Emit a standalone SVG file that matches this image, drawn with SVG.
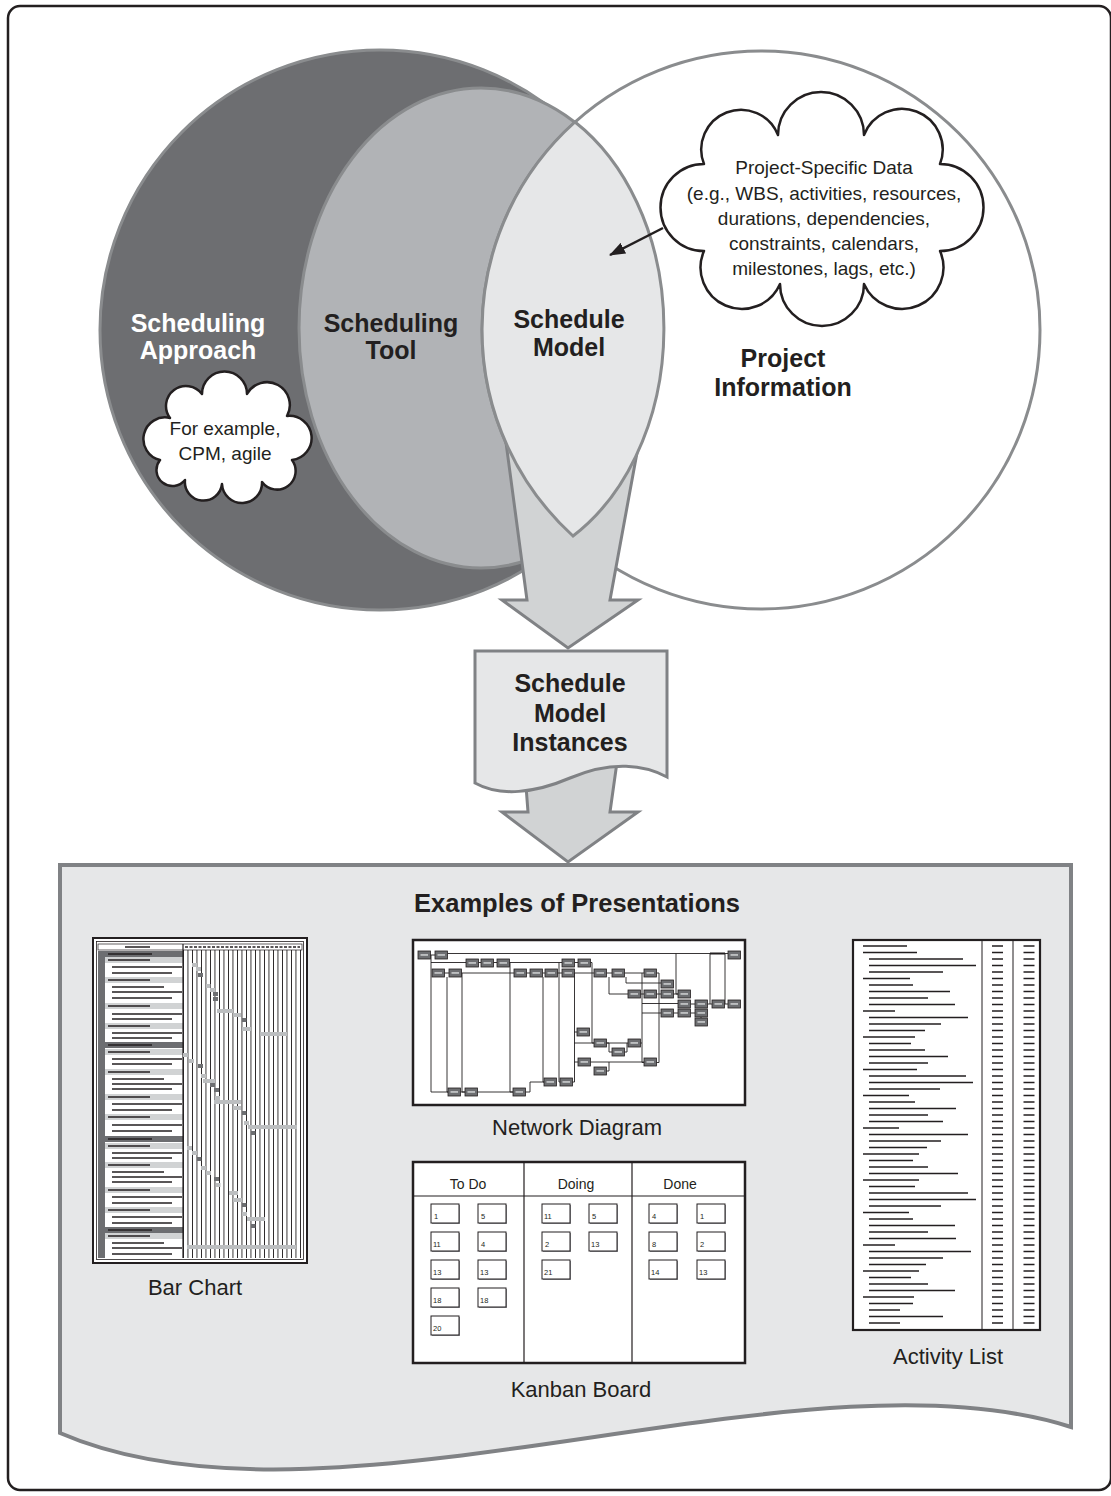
<svg xmlns="http://www.w3.org/2000/svg" xmlns:xlink="http://www.w3.org/1999/xlink" width="1111" height="1496" viewBox="0 0 1111 1496">
<style>
.t{font-family:"Liberation Sans",Arial,sans-serif;fill:#231f20}
.b{font-weight:bold;font-size:25px}
.lbl{font-size:22px}
.cl{font-size:19px}
.kh{font-size:14px}
.kn{font-size:7.5px;fill:#231f20}
.venn{stroke:#8a8c8e;stroke-width:3}
.arr{fill:#d1d3d4;stroke:#808285;stroke-width:3;stroke-linejoin:miter}
.cloud{fill:#fff;stroke:#231f20;stroke-width:2.5;stroke-linejoin:round}
.frm{fill:#fff;stroke:#231f20}
.blob{fill:none;stroke:#231f20;stroke-width:1.6}
.nl{fill:none;stroke:#231f20;stroke-width:0.9}
</style>
<defs>
<marker id="ah" viewBox="0 0 16 12" markerWidth="16" markerHeight="12" refX="15" refY="6" orient="auto" markerUnits="userSpaceOnUse">
<path d="M0 0 L16 6 L0 12 Z" fill="#231f20"/>
</marker>
<pattern id="vl" x="183" y="0" width="4.5" height="10" patternUnits="userSpaceOnUse">
<rect x="0" y="0" width="0.9" height="10" fill="#231f20"/>
</pattern>
<g id="nbox">
<rect x="0" y="0" width="12.5" height="8" fill="#6d6e71" stroke="#231f20" stroke-width="0.8"/>
<rect x="2.5" y="3.2" width="7.5" height="1.5" fill="#d1d3d4"/>
</g>
<g id="card">
<rect x="1" y="1" width="28" height="19" fill="#939598"/>
<rect x="0" y="0" width="28" height="19" fill="#fff" stroke="#231f20" stroke-width="1"/>
</g>
</defs>

<rect id="frame" x="8" y="6" width="1103" height="1484" rx="12" fill="#fff" stroke="#231f20" stroke-width="2.5"/>

<g id="scheduling-approach">
<circle cx="380" cy="330" r="280" fill="#6d6e71" class="venn"/>
</g>
<g id="scheduling-tool">
<ellipse cx="481" cy="328" rx="182" ry="240" fill="#b1b3b6" class="venn"/>
</g>
<g id="project-information">
<circle cx="761" cy="330" r="279" fill="#fff" class="venn"/>
</g>

<g id="connectors">
<polygon class="arr" points="503,420 527,600 502,600 568,648 638,600 610,600 643,420"/>
<polygon class="arr" points="524,760 528,812 502,812 568,862 638,812 610,812 618,755"/>
</g>

<g id="schedule-model">
<path d="M575 122 A279 279 0 0 0 573 536 A182 240 0 0 0 575 122 Z" fill="#e6e7e8" class="venn"/>
<text class="t b" x="569" y="328" text-anchor="middle">Schedule</text>
<text class="t b" x="569" y="356" text-anchor="middle">Model</text>
</g>

<g id="labels-venn">
<text class="t b" x="198" y="332" text-anchor="middle" style="fill:#fff">Scheduling</text>
<text class="t b" x="198" y="359" text-anchor="middle" style="fill:#fff">Approach</text>
<text class="t b" x="391" y="332" text-anchor="middle">Scheduling</text>
<text class="t b" x="391" y="359" text-anchor="middle">Tool</text>
<text class="t b" x="783" y="367" text-anchor="middle">Project</text>
<text class="t b" x="783" y="396" text-anchor="middle">Information</text>
</g>

<g id="cloud-approach">
<path class="cloud" d="M160 460 A1 1 0 0 1 170 418 A1 1 0 0 1 202 394 A1 1 0 0 1 247 394 A1 1 0 0 1 287 416 A1 1 0 0 1 292 460 A1 1 0 0 1 262 482 A1 1 0 0 1 222 484 A1 1 0 0 1 185 480 A1 1 0 0 1 160 460 Z"/>
<text class="t cl" x="225" y="435" text-anchor="middle">For example,</text>
<text class="t cl" x="225" y="460" text-anchor="middle">CPM, agile</text>
</g>

<g id="cloud-data">
<path class="cloud" d="M704 251 A1 1 0 0 1 704 164 A1 1 0 0 1 778 135 A1 1 0 0 1 864 135 A1 1 0 0 1 940 164 A1 1 0 0 1 940 251 A1 1 0 0 1 864 284 A1 1 0 0 1 780 284 A1 1 0 0 1 704 251 Z"/>
<text class="t cl" x="824" y="174" text-anchor="middle">Project-Specific Data</text>
<text class="t cl" x="824" y="200" text-anchor="middle">(e.g., WBS, activities, resources,</text>
<text class="t cl" x="824" y="225" text-anchor="middle">durations, dependencies,</text>
<text class="t cl" x="824" y="250" text-anchor="middle">constraints, calendars,</text>
<text class="t cl" x="824" y="275" text-anchor="middle">milestones, lags, etc.)</text>
</g>

<g id="data-arrow">
<path d="M663 228 L610 255" stroke="#231f20" stroke-width="2.5" fill="none" marker-end="url(#ah)"/>
</g>

<g id="schedule-model-instances">
<path d="M475 651 H667 V777 C645 765 612 760 570 778 C535 793 500 797 475 783 Z" fill="#e6e7e8" stroke="#808285" stroke-width="3"/>
<text class="t b" x="570" y="692" text-anchor="middle">Schedule</text>
<text class="t b" x="570" y="722" text-anchor="middle">Model</text>
<text class="t b" x="570" y="751" text-anchor="middle">Instances</text>
</g>

<g id="presentations-panel">
<path d="M60 865 H1071 V1427 C800 1340 330 1550 60 1433 Z" fill="#e6e7e8" stroke="#808285" stroke-width="4"/>
<text class="t" x="577" y="912" text-anchor="middle" style="font-weight:bold;font-size:25.5px">Examples of Presentations</text>
</g>

<g id="bar-chart">
<rect x="93" y="938" width="214" height="325" class="frm" stroke-width="2"/>
<rect x="96.5" y="941.5" width="207" height="318" fill="#fff" stroke="#231f20" stroke-width="0.8"/>
<rect x="98" y="944" width="204" height="6" fill="#fff" stroke="#231f20" stroke-width="0.7"/>
<rect x="183" y="950" width="118" height="308" fill="url(#vl)"/>
<rect x="98" y="951" width="7" height="307" fill="#6d6e71"/>
<g fill="#6d6e71">
<rect x="98" y="951" width="85" height="6"/>
<rect x="98" y="1042" width="85" height="6"/>
<rect x="98" y="1136" width="85" height="6"/>
<rect x="98" y="1227" width="85" height="6"/>
</g>
<g fill="#d1d3d4">
<rect x="105" y="957" width="78" height="6"/>
<rect x="105" y="977" width="78" height="6"/>
<rect x="105" y="1003" width="78" height="6"/>
<rect x="105" y="1023" width="78" height="6"/>
<rect x="105" y="1049" width="78" height="6"/>
<rect x="105" y="1069" width="78" height="6"/>
<rect x="105" y="1094" width="78" height="6"/>
<rect x="105" y="1114" width="78" height="6"/>
<rect x="105" y="1143" width="78" height="6"/>
<rect x="105" y="1162" width="78" height="6"/>
<rect x="105" y="1187" width="78" height="6"/>
<rect x="105" y="1207" width="78" height="6"/>
<rect x="105" y="1233" width="78" height="6"/>
</g>
<path d="M183 944 V1258" stroke="#231f20" stroke-width="1.2"/>
<path class="blob" stroke-width="1.3" d="M112 967h70M112 973h60M112 987h52M112 992h70M112 998h60M112 1014h70M112 1019h60M112 1033h70M112 1038h60M112 1059h70M112 1064h60M112 1079h52M112 1084h70M112 1089h60M112 1104h70M112 1110h60M112 1125h70M112 1131h60M112 1153h70M112 1158h60M112 1172h52M112 1177h70M112 1182h60M112 1197h70M112 1203h60M112 1217h70M112 1223h60M112 1243h52M112 1248h70M112 1254h60"/>
<path class="blob" stroke-width="1.5" d="M108 960h42M108 980h42M108 1006h42M108 1026h42M108 1052h42M108 1072h42M108 1097h42M108 1117h42M108 1146h42M108 1165h42M108 1190h42M108 1210h42M108 1236h42M125 947h25"/>
<path class="blob" stroke="#e6e7e8" stroke-width="1.5" d="M108 954h44M108 1045h44M108 1139h44M108 1230h44"/>
<path class="blob" stroke-width="1.5" stroke-dasharray="3 1.5" d="M185 947h115"/>
<g fill="#bcbec0">
<rect x="192" y="963" width="5" height="4"/><rect x="196" y="967" width="5" height="4"/>
<rect x="206" y="984" width="4.5" height="4"/><rect x="210" y="988" width="5" height="4"/>
<rect x="217" y="1009" width="16" height="4"/><rect x="233" y="1013" width="8" height="4"/>
<rect x="242" y="1027" width="9" height="4"/><rect x="260" y="1032" width="27" height="4"/>
<rect x="183" y="1053" width="5" height="4"/><rect x="189" y="1059" width="5" height="4"/>
<rect x="201" y="1074" width="5" height="4"/><rect x="203" y="1079" width="12" height="4"/>
<rect x="215" y="1096" width="5" height="4"/><rect x="214" y="1100" width="27" height="4"/>
<rect x="233" y="1106" width="8" height="4"/><rect x="244" y="1121" width="5" height="4"/>
<rect x="248" y="1125" width="49" height="4"/><rect x="187" y="1146" width="5" height="4"/>
<rect x="192" y="1151" width="5" height="4"/><rect x="201" y="1166" width="5" height="4"/>
<rect x="206" y="1171" width="5" height="4"/><rect x="216" y="1183" width="4.5" height="4"/>
<rect x="229" y="1191" width="9" height="4"/><rect x="233" y="1198" width="9" height="4"/>
<rect x="242" y="1212" width="5" height="4"/><rect x="247" y="1217" width="18" height="4"/>
<rect x="187" y="1245" width="109" height="4"/>
</g>
<g fill="#6d6e71">
<rect x="198" y="973" width="5" height="4"/><rect x="213" y="992" width="5" height="4"/>
<rect x="213" y="997" width="5" height="4"/><rect x="242" y="1018" width="4.5" height="4"/>
<rect x="198" y="1064" width="5" height="4"/><rect x="210" y="1083" width="5" height="4"/>
<rect x="214" y="1088" width="5" height="4"/><rect x="242" y="1111" width="4.5" height="4"/>
<rect x="251" y="1131" width="4.5" height="4"/><rect x="197" y="1157" width="4.5" height="4"/>
<rect x="214" y="1177" width="5" height="4"/><rect x="242" y="1203" width="4.5" height="4"/>
<rect x="251" y="1224" width="4.5" height="4"/>
</g>
<text class="t lbl" x="195" y="1295" text-anchor="middle">Bar Chart</text>
</g>

<g id="network-diagram">
<rect x="413" y="940" width="332" height="165" class="frm" stroke-width="2.5"/>
<path class="nl" d="M430.5 955H435M447.5 953.5H728M430.5 955H431V1092H448M431 962.5H466M478.5 962.5H481M493.5 962.5H497M509.5 962.5H562M574.5 962.5H578M590.5 962.5H592V1043H594M444.5 973H449M447 977V1092H448M461.5 973H514M462 973V1092H465M460.5 1092H465M477.5 1092H513M510 962.5V1092H513M526.5 973H530M542.5 973H545M557.5 973H562M543 977V1082H544M559 962.5V1082H560M574.5 973V1082H572.5M525.5 1092H530V1082H544M574.5 973H594M606.5 973H612M624.5 973H644M609 977V994H628M626 977V983H661M642 973V1062.5H644M642 1003.5H678M642 1013H661M656.5 973H659V1062.5H656.5M640.5 994H644M656.5 994H661M673.5 994H678M676 953.5V994H678M690.5 1004H695M707.5 1004H712M724.5 1004H728M710 953.5V1004M725 953.5V1004M673.5 1013H678M690.5 1013H695M701 1017V1018M574 1032H577M574 1043H594M606.5 1043H628M606.5 1043H609V1052H612M624.5 1052H627V1043M574 1062H578M590.5 1062H644M606.5 1071H609V1062M640.5 1043H642"/>
<path d="M710 953.5H725" stroke="#231f20" stroke-width="2"/>
<use xlink:href="#nbox" x="418" y="951"/><use xlink:href="#nbox" x="435" y="951"/><use xlink:href="#nbox" x="728" y="951"/>
<use xlink:href="#nbox" x="466" y="959"/><use xlink:href="#nbox" x="481" y="959"/><use xlink:href="#nbox" x="497" y="959"/>
<use xlink:href="#nbox" x="562" y="959"/><use xlink:href="#nbox" x="578" y="959"/>
<use xlink:href="#nbox" x="432" y="969"/><use xlink:href="#nbox" x="449" y="969"/>
<use xlink:href="#nbox" x="514" y="969"/><use xlink:href="#nbox" x="530" y="969"/><use xlink:href="#nbox" x="545" y="969"/><use xlink:href="#nbox" x="562" y="969"/>
<use xlink:href="#nbox" x="594" y="969"/><use xlink:href="#nbox" x="612" y="969"/><use xlink:href="#nbox" x="644" y="969"/>
<use xlink:href="#nbox" x="661" y="980"/>
<use xlink:href="#nbox" x="628" y="990"/><use xlink:href="#nbox" x="644" y="990"/><use xlink:href="#nbox" x="661" y="990"/><use xlink:href="#nbox" x="678" y="990"/>
<use xlink:href="#nbox" x="678" y="1000"/><use xlink:href="#nbox" x="695" y="1000"/><use xlink:href="#nbox" x="712" y="1000"/><use xlink:href="#nbox" x="728" y="1000"/>
<use xlink:href="#nbox" x="661" y="1009"/><use xlink:href="#nbox" x="678" y="1009"/><use xlink:href="#nbox" x="695" y="1009"/>
<use xlink:href="#nbox" x="695" y="1018"/>
<use xlink:href="#nbox" x="577" y="1028"/>
<use xlink:href="#nbox" x="594" y="1039"/><use xlink:href="#nbox" x="628" y="1039"/>
<use xlink:href="#nbox" x="612" y="1048"/>
<use xlink:href="#nbox" x="578" y="1058"/><use xlink:href="#nbox" x="644" y="1058"/>
<use xlink:href="#nbox" x="594" y="1067"/>
<use xlink:href="#nbox" x="544" y="1078"/><use xlink:href="#nbox" x="560" y="1078"/>
<use xlink:href="#nbox" x="448" y="1088"/><use xlink:href="#nbox" x="465" y="1088"/><use xlink:href="#nbox" x="513" y="1088"/>
<text class="t lbl" x="577" y="1135" text-anchor="middle">Network Diagram</text>
</g>

<g id="kanban-board">
<rect x="413" y="1162" width="332" height="201" class="frm" stroke-width="2.5"/>
<path d="M413 1196H745M524 1162V1363M632 1162V1363" stroke="#231f20" stroke-width="1.2" fill="none"/>
<text class="t kh" x="468" y="1189" text-anchor="middle">To Do</text>
<text class="t kh" x="576" y="1189" text-anchor="middle">Doing</text>
<text class="t kh" x="680" y="1189" text-anchor="middle">Done</text>
<use xlink:href="#card" x="431" y="1204"/><use xlink:href="#card" x="478" y="1204"/>
<use xlink:href="#card" x="431" y="1232"/><use xlink:href="#card" x="478" y="1232"/>
<use xlink:href="#card" x="431" y="1260"/><use xlink:href="#card" x="478" y="1260"/>
<use xlink:href="#card" x="431" y="1288"/><use xlink:href="#card" x="478" y="1288"/>
<use xlink:href="#card" x="431" y="1316"/>
<use xlink:href="#card" x="542" y="1204"/><use xlink:href="#card" x="589" y="1204"/>
<use xlink:href="#card" x="542" y="1232"/><use xlink:href="#card" x="589" y="1232"/>
<use xlink:href="#card" x="542" y="1260"/>
<use xlink:href="#card" x="649" y="1204"/><use xlink:href="#card" x="697" y="1204"/>
<use xlink:href="#card" x="649" y="1232"/><use xlink:href="#card" x="697" y="1232"/>
<use xlink:href="#card" x="649" y="1260"/><use xlink:href="#card" x="697" y="1260"/>
<text class="t kn" x="434" y="1219">1</text><text class="t kn" x="481" y="1219">5</text>
<text class="t kn" x="433" y="1247">11</text><text class="t kn" x="481" y="1247">4</text>
<text class="t kn" x="433" y="1275">13</text><text class="t kn" x="480" y="1275">13</text>
<text class="t kn" x="433" y="1303">18</text><text class="t kn" x="480" y="1303">18</text>
<text class="t kn" x="433" y="1331">20</text>
<text class="t kn" x="544" y="1219">11</text><text class="t kn" x="592" y="1219">5</text>
<text class="t kn" x="545" y="1247">2</text><text class="t kn" x="591" y="1247">13</text>
<text class="t kn" x="544" y="1275">21</text>
<text class="t kn" x="652" y="1219">4</text><text class="t kn" x="700" y="1219">1</text>
<text class="t kn" x="652" y="1247">8</text><text class="t kn" x="700" y="1247">2</text>
<text class="t kn" x="651" y="1275">14</text><text class="t kn" x="699" y="1275">13</text>
<text class="t lbl" x="581" y="1397" text-anchor="middle">Kanban Board</text>
</g>

<g id="activity-list">
<rect x="853" y="940" width="187" height="390" class="frm" stroke-width="2.2"/>
<path d="M982 940V1330M1013 940V1330" stroke="#231f20" stroke-width="1" fill="none"/>
<path class="blob" stroke-width="2.2" d="M863 952.5h54M863 978.5h47M863 1011h32M863 1037h52M863 1069.5h54M863 1095.5h46M863 1128h36M863 1154h56M863 1180h56M863 1212.5h46M863 1245h32M863 1271h56M863 1297h51"/>
<path class="blob" d="M863 946h44M869 959h94M869 965.5h107M869 972h74M869 985h44M869 991.5h81M869 998h59M869 1004.5h86M869 1017.5h99M869 1024h72M869 1030.5h56M869 1043.5h42M869 1050h56M869 1056.5h79M869 1063h59M869 1076h97M869 1082.5h104M869 1089h71M869 1102h46M869 1108.5h87M869 1115h59M869 1121.5h74M869 1134.5h99M869 1141h72M869 1147.5h58M869 1160.5h44M869 1167h59M869 1173.5h89M869 1186.5h46M869 1193h99M869 1199.5h107M869 1206h72M869 1219h44M869 1225.5h86M869 1232h59M869 1238.5h87M869 1251.5h102M869 1258h74M869 1264.5h57M869 1277.5h42M869 1284h59M869 1290.5h86M869 1303.5h44M869 1310h31M869 1316.5h74M869 1323h31"/>
<path d="M997.5 945.2V1324M1029 945.2V1324" stroke="#231f20" stroke-width="11" stroke-dasharray="1.6 4.9" fill="none"/>
<text class="t lbl" x="948" y="1364" text-anchor="middle">Activity List</text>
</g>
</svg>
